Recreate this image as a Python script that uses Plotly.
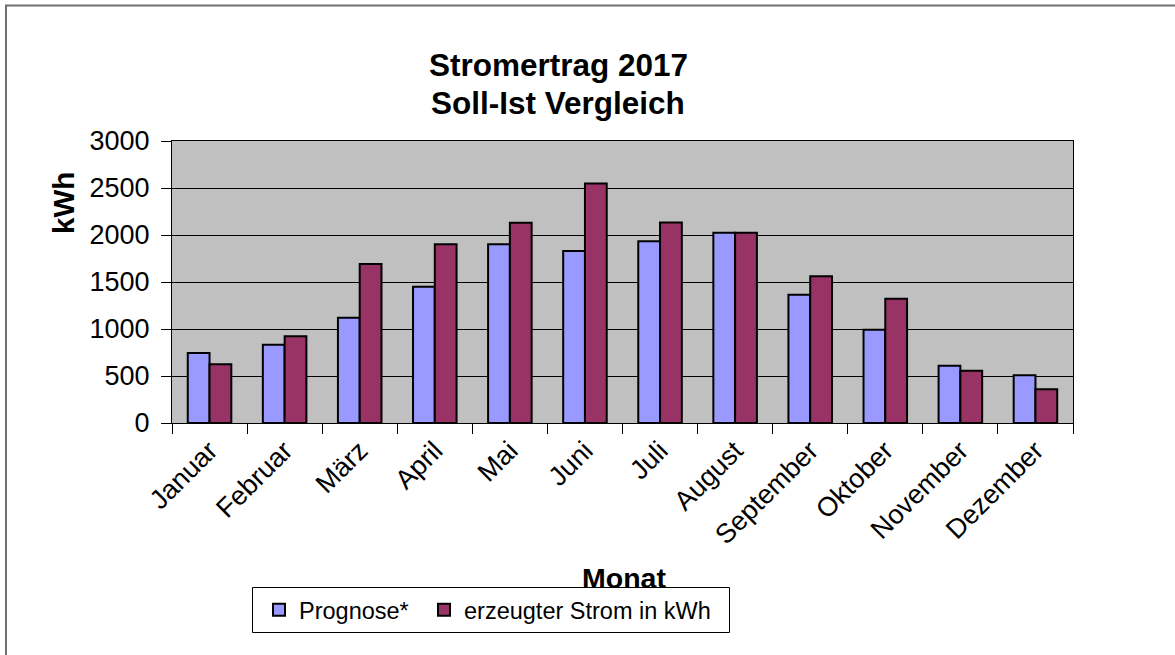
import plotly.graph_objects as go

months = ["Januar", "Februar", "März", "April", "Mai", "Juni", "Juli",
          "August", "September", "Oktober", "November", "Dezember"]
prognose = [746, 832, 1120, 1450, 1902, 1831, 1934, 2023, 1365, 992, 608, 508]
erzeugt = [626, 924, 1692, 1902, 2129, 2549, 2133, 2023, 1561, 1322, 555, 359]
series_names = ["Prognose*", "erzeugter Strom in kWh"]
title_lines = ["Stromertrag 2017", "Soll-Ist Vergleich"]
y_title = "kWh"
x_title = "Monat"
y_ticks = [0, 500, 1000, 1500, 2000, 2500, 3000]

W, H = 1175, 655
L, R, T, B = 172, 1073, 141, 423
FONT = "Liberation Sans, Arial, sans-serif"


def px_x(px):
    return (px - L) / (R - L)


def px_y(py):
    return (B - py) / (B - T)


fig = go.Figure()
fig.add_trace(go.Bar(x=months, y=prognose, name=series_names[0], legend="legend",
                     marker=dict(color="#9999FF", line=dict(color="black", width=2))))
fig.add_trace(go.Bar(x=months, y=erzeugt, name=series_names[1], legend="legend2",
                     marker=dict(color="#993366", line=dict(color="black", width=2))))

legend_common = dict(
    orientation="h", xanchor="left", yanchor="top",
    borderwidth=0, bgcolor="rgba(0,0,0,0)",
    font=dict(family=FONT, size=23.5, color="black"),
    itemsizing="constant",
)

fig.update_layout(
    width=W, height=H,
    margin=dict(l=L, r=W - R, t=T, b=H - B, pad=0),
    paper_bgcolor="white",
    plot_bgcolor="#C0C0C0",
    barmode="group",
    bargap=0.42,
    bargroupgap=0,
    font=dict(family=FONT, size=20, color="black"),
    showlegend=True,
    legend=dict(x=px_x(259), y=px_y(588), **legend_common),
    legend2=dict(x=px_x(424), y=px_y(588), **legend_common),
)

fig.update_xaxes(
    type="category",
    showline=True, linecolor="black", linewidth=1, mirror=True,
    ticks="outside", ticklen=10, tickcolor="black", tickson="boundaries",
    tickangle=-45,
    tickfont=dict(family=FONT, size=27, color="black"),
    showgrid=False,
)
fig.update_yaxes(
    range=[0, 3000], tickvals=y_ticks,
    showline=True, linecolor="black", linewidth=1, mirror=True,
    ticks="outside", ticklen=10, tickcolor="black",
    ticklabelstandoff=6,
    showgrid=True, gridcolor="black", gridwidth=1,
    tickfont=dict(family=FONT, size=27, color="black"),
    zeroline=False,
)

for line, ypx in zip(title_lines, [65, 103]):
    fig.add_annotation(text="<b>" + line + "</b>",
                       xref="paper", yref="paper", x=px_x(558), y=px_y(ypx),
                       xanchor="center", yanchor="middle", showarrow=False,
                       font=dict(family=FONT, size=31.5, color="black"))
fig.add_annotation(text="<b>" + y_title + "</b>", textangle=-90,
                   xref="paper", yref="paper", x=px_x(63), y=px_y(203),
                   xanchor="center", yanchor="middle", showarrow=False,
                   font=dict(family=FONT, size=29.5, color="black"))
fig.add_annotation(text="<b>" + x_title + "</b>",
                   xref="paper", yref="paper", x=px_x(624), y=px_y(578),
                   xanchor="center", yanchor="middle", showarrow=False,
                   font=dict(family=FONT, size=28.5, color="black"))

# legend frame
fig.add_shape(type="rect", xref="paper", yref="paper",
              x0=px_x(252.5), x1=px_x(729.5), y0=px_y(587.5), y1=px_y(632.5),
              line=dict(color="black", width=1), fillcolor="rgba(0,0,0,0)",
              layer="above")

# outer chart frame (extends beyond the visible page on right/bottom)
fig.add_shape(type="rect", xref="paper", yref="paper",
              x0=px_x(6), x1=px_x(1400), y0=px_y(5.5), y1=px_y(900),
              line=dict(color="#707070", width=2), fillcolor="rgba(0,0,0,0)",
              layer="below")

fig.write_html("out.html",
               config={"displayModeBar": False},
               post_script="document.body.style.margin='0';document.body.style.overflow='hidden';")
